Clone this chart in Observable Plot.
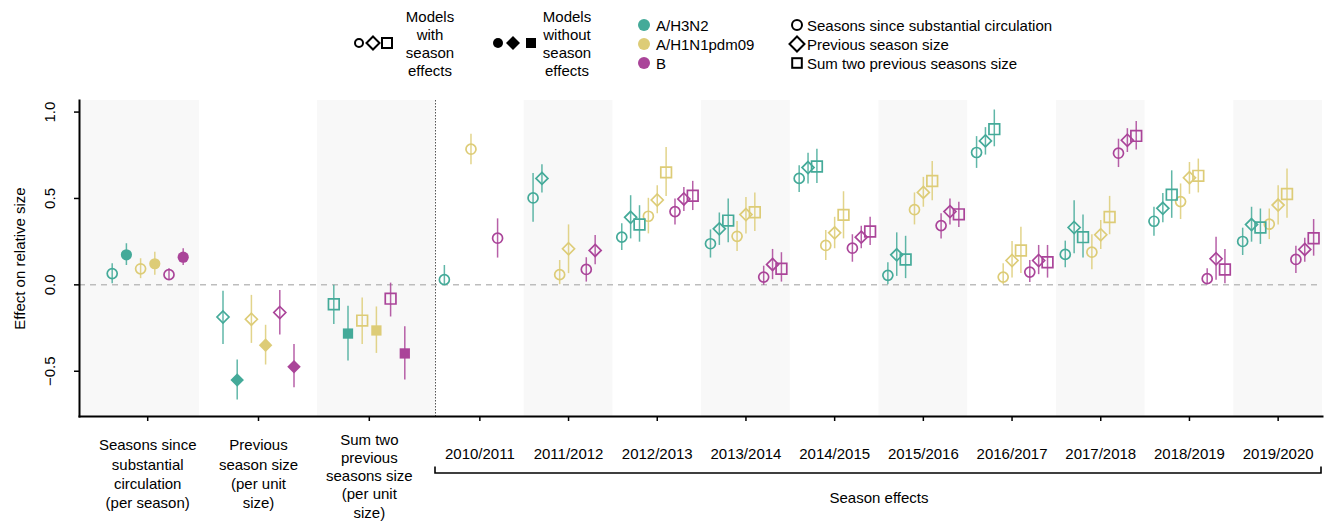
<!DOCTYPE html>
<html><head><meta charset="utf-8">
<script src="https://cdn.jsdelivr.net/npm/d3@7"></script>
<script src="https://cdn.jsdelivr.net/npm/@observablehq/plot@0.6"></script>
<style>
body{margin:0;background:#fff;font-family:"Liberation Sans",Arial,Helvetica,sans-serif;}
#legend svg,#chart svg{display:block;}
</style></head>
<body><div id="legend"></div><div id="chart"></div>
<script>
// ---------- categories ----------
const strains = ["A/H3N2", "A/H1N1pdm09", "B"];
const covariates = ["Seasons since substantial circulation", "Previous season size", "Sum two previous seasons size"];
const covariateTickLabels = [
  "Seasons since\nsubstantial\ncirculation\n(per season)",
  "Previous\nseason size\n(per unit\nsize)",
  "Sum two\nprevious\nseasons size\n(per unit\nsize)"
];
const seasons = ["2010/2011","2011/2012","2012/2013","2013/2014","2014/2015","2015/2016","2016/2017","2017/2018","2018/2019","2019/2020"];
const modelTypes = ["Models\nwith\nseason\neffects", "Models\nwithout\nseason\neffects"];
const yTicks = [-0.5, 0, 0.5, 1.0];

// ---------- covariate effects (rows: covariate, cols: strain) ----------
const withSeasonEst = [[0.065, 0.093, 0.059], [-0.186, -0.199, -0.160], [-0.112, -0.207, -0.080]];
const withSeasonLo  = [[0.007, 0.036, 0.026], [-0.345, -0.339, -0.291], [-0.230, -0.345, -0.186]];
const withSeasonHi  = [[0.122, 0.151, 0.093], [-0.037, -0.061, -0.032], [-0.003, -0.076, 0.010]];
const withoutSeasonEst = [[0.174, 0.122, 0.160], [-0.551, -0.349, -0.474], [-0.282, -0.264, -0.397]];
const withoutSeasonLo  = [[0.112, 0.055, 0.112], [-0.666, -0.464, -0.595], [-0.441, -0.397, -0.551]];
const withoutSeasonHi  = [[0.238, 0.189, 0.209], [-0.435, -0.234, -0.345], [-0.124, -0.128, -0.243]];

// ---------- season effects (rows: season, cols: covariate model circle/diamond/square) ----------
const h3n2Est = [[0.030,null,null],[0.503,0.616,null],[0.276,0.391,0.349],[0.238,0.324,0.372],[0.616,0.679,0.685],[0.055,0.174,0.147],[0.766,0.833,0.901],[0.176,0.332,0.276],[0.368,0.443,0.522],[0.251,0.349,0.332]];
const h3n2Lo  = [[-0.003,null,null],[0.362,0.532,null],[0.199,0.266,0.247],[0.155,0.228,0.243],[0.535,0.584,0.587],[0.001,0.049,0.036],[0.674,0.751,0.799],[0.099,0.180,0.155],[0.281,0.359,0.385],[0.170,0.247,0.234]];
const h3n2Hi  = [[0.112,null,null],[0.645,0.695,null],[0.353,0.516,0.458],[0.318,0.416,0.497],[0.689,0.762,0.785],[0.128,0.301,0.281],[0.858,0.910,1.012],[0.253,0.487,0.405],[0.449,0.529,0.660],[0.328,0.449,0.439]];
const h1n1Est = [[0.785,null,null],[0.059,0.209,null],[0.397,0.491,0.651],[0.281,0.407,0.420],[0.228,0.301,0.405],[0.435,0.535,0.601],[0.045,0.141,0.199],[0.189,0.290,0.393],[0.482,0.620,0.631],[0.351,0.462,0.526]];
const h1n1Lo  = [[0.695,null,null],[0.001,0.065,null],[0.295,0.411,0.512],[0.193,0.295,0.309],[0.141,0.209,0.266],[0.347,0.449,0.487],[0.001,0.039,0.065],[0.088,0.205,0.290],[0.378,0.524,0.532],[0.262,0.347,0.385]];
const h1n1Hi  = [[0.872,null,null],[0.141,0.347,null],[0.501,0.574,0.795],[0.366,0.506,0.532],[0.314,0.391,0.539],[0.532,0.622,0.714],[0.122,0.251,0.333],[0.290,0.372,0.512],[0.584,0.708,0.728],[0.439,0.574,0.670]];
const bEst = [[0.270,null,null],[0.089,0.199,null],[0.424,0.497,0.516],[0.045,0.118,0.093],[0.212,0.276,0.309],[0.343,0.424,0.408],[0.074,0.141,0.131],[0.762,0.837,0.862],[0.036,0.151,0.089],[0.147,0.205,0.270]];
const bLo  = [[0.155,null,null],[0.016,0.116,null],[0.347,0.424,0.430],[-0.003,0.030,0.016],[0.131,0.209,0.228],[0.266,0.347,0.332],[0.013,0.059,0.039],[0.679,0.766,0.781],[0.001,0.026,0.007],[0.065,0.131,0.166]];
const bHi  = [[0.382,null,null],[0.157,0.285,null],[0.497,0.564,0.599],[0.108,0.205,0.186],[0.290,0.339,0.391],[0.411,0.497,0.478],[0.141,0.228,0.228],[0.843,0.904,0.945],[0.093,0.276,0.205],[0.224,0.270,0.378]];

// ---------- styles / layout ----------
const strainColors = ["#44AA99", "#DDCC77", "#AA4499"];
const FONT = '"Liberation Sans", Arial, Helvetica, sans-serif';
const W = 1325, H = 427, ML = 79, MR = 3, MT = 5, MB = 106;
const yDomain = [-0.762, 1.067];
const leftGroupStart = 68.2, leftGroupStep = 110.8, leftSlot = 14.2;
const leftPanelEdges = [0, 120, 238, 356];
const seasonStart = 356, seasonWidth = 88.7, seasonSlot = 8.87;
const xLeft = i => leftGroupStart + i * leftGroupStep;
const xSeason = j => seasonStart + (j + 0.5) * seasonWidth;

const seasonEst = [h3n2Est, h1n1Est, bEst], seasonLo = [h3n2Lo, h1n1Lo, bLo], seasonHi = [h3n2Hi, h1n1Hi, bHi];

const rows = [];
covariates.forEach((cov, c) => strains.forEach((st, s) => {
  [[withSeasonEst, withSeasonLo, withSeasonHi], [withoutSeasonEst, withoutSeasonLo, withoutSeasonHi]].forEach(([E, L, U], m) => {
    rows.push({x: xLeft(c) + (2 * s + m - 2.5) * leftSlot, est: E[c][s], lo: L[c][s], hi: U[c][s], s, c, filled: m === 1});
  });
}));
seasons.forEach((season, j) => strains.forEach((st, s) => covariates.forEach((cov, c) => {
  const e = seasonEst[s][j][c];
  if (e == null) return;
  rows.push({x: xSeason(j) + (3 * s + c - 4) * seasonSlot, est: e, lo: seasonLo[s][j][c], hi: seasonHi[s][j][c], s, c, filled: false});
})));

const shaded = [{x1: leftPanelEdges[0], x2: leftPanelEdges[1]}, {x1: leftPanelEdges[2], x2: leftPanelEdges[3]}];
seasons.forEach((_, j) => { if (j % 2 === 1) shaded.push({x1: seasonStart + j * seasonWidth, x2: seasonStart + (j + 1) * seasonWidth}); });

const openSymbols = ["circle", "diamond2", "square2"], openR = [5, 5.4, 6.8];
const filledSymbols = ["circle", "diamond2", "square"], filledR = [5.6, 6.1, 5.8];

const dotMarks = [];
covariates.forEach((cov, c) => {
  dotMarks.push(Plot.dot(rows.filter(d => d.c === c && !d.filled), {x: "x", y: "est", symbol: () => openSymbols[c], r: openR[c], fill: "none", stroke: d => strainColors[d.s], strokeWidth: 1.7}));
  dotMarks.push(Plot.dot(rows.filter(d => d.c === c && d.filled), {x: "x", y: "est", symbol: () => filledSymbols[c], r: filledR[c], fill: d => strainColors[d.s], stroke: "none"}));
});

const leftCenters = covariates.map((_, i) => xLeft(i));
const seasonCenters = seasons.map((_, j) => xSeason(j));
const fmtY = d => (d < 0 ? "\u2212" : "") + Math.abs(d).toFixed(1);
const seasonsEnd = seasonStart + seasons.length * seasonWidth;
const leftLabel = v => covariateTickLabels[leftCenters.findIndex(c => Math.abs(c - v) < 1e-6)];

const chart = Plot.plot({
  width: W, height: H, marginLeft: ML, marginRight: MR, marginTop: MT, marginBottom: MB,
  style: {fontFamily: FONT, fontSize: "15px", background: "white", overflow: "visible"},
  x: {type: "linear", domain: [0, seasonsEnd]},
  y: {domain: yDomain},
  symbol: {type: "identity"},
  marks: [
    Plot.rect(shaded, {x1: "x1", x2: "x2", y1: yDomain[0], y2: yDomain[1], fill: "#f8f8f8"}),
    Plot.ruleY([0], {stroke: "#bdbdbd", strokeWidth: 1.5, strokeDasharray: "6,5"}),
    Plot.ruleX([seasonStart], {stroke: "#555", strokeWidth: 1, strokeDasharray: "1.5,1.5"}),
    Plot.ruleX(rows, {x: "x", y1: "lo", y2: "hi", stroke: d => strainColors[d.s], strokeWidth: 1.5, strokeOpacity: 0.85}),
    ...dotMarks,
    Plot.frame({anchor: "left", stroke: "black", strokeWidth: 2}),
    Plot.frame({anchor: "bottom", stroke: "black", strokeWidth: 2}),
    Plot.axisY({ticks: yTicks, tickSize: 5, tickFormat: () => "", label: null, strokeWidth: 1.5}),
    Plot.text(yTicks, {y: d => d, text: fmtY, frameAnchor: "left", dx: -29, rotate: -90, textAnchor: "middle", lineAnchor: "middle", fontSize: 15}),
    Plot.text(["Effect on relative size"], {frameAnchor: "left", dx: -59, rotate: -90, textAnchor: "middle", lineAnchor: "middle", fontSize: 15}),
    Plot.axisX({ticks: leftCenters.slice(0, 2), tickSize: 5, tickPadding: 15, lineHeight: 1.29, fontSize: 15, label: null, strokeWidth: 1.5, tickFormat: leftLabel}),
    Plot.axisX({ticks: leftCenters.slice(2), tickSize: 5, tickPadding: 10, lineHeight: 1.22, fontSize: 15, label: null, strokeWidth: 1.5, tickFormat: leftLabel}),
    Plot.axisX({ticks: seasonCenters, tickSize: 5, tickPadding: 27, fontSize: 15, label: null, strokeWidth: 1.5,
      tickFormat: v => seasons[seasonCenters.findIndex(c => Math.abs(c - v) < 1e-6)]}),
    (index, scales, values, dims) => {
      const g = d3.create("svg:g");
      const yb = dims.height - dims.marginBottom + 57;
      const xa = scales.x(seasonStart), xb = scales.x(seasonsEnd) - 1;
      g.append("path").attr("d", `M${xa},${yb - 6.5}V${yb}H${xb}V${yb - 6.5}`)
        .attr("fill", "none").attr("stroke", "black").attr("stroke-width", 1.6);
      return g.node();
    },
    Plot.text(["Season effects"], {x: () => (seasonStart + seasonsEnd) / 2, frameAnchor: "bottom", dy: 82, lineAnchor: "middle", fontSize: 15})
  ]
});
document.getElementById("chart").appendChild(chart);

// ---------- legend (above the plot) ----------
const lg = d3.select("#legend").append("svg").attr("width", W).attr("height", 95)
  .style("font-family", FONT).style("font-size", "15px");
function sym(g, type, x, y, size, filled, color) {
  const el = type === "circle" ? g.append("circle").attr("cx", x).attr("cy", y).attr("r", size)
    : type === "diamond" ? g.append("path").attr("d", `M${x},${y - size}L${x + size},${y}L${x},${y + size}L${x - size},${y}Z`)
    : g.append("rect").attr("x", x - size).attr("y", y - size).attr("width", 2 * size).attr("height", 2 * size);
  if (filled) el.attr("fill", color).attr("stroke", "none");
  else el.attr("fill", "none").attr("stroke", color).attr("stroke-width", 2);
}
// model type legend
[[359, 373, 387, 430, false], [498, 513, 531, 567, true]].forEach(([a, b, c, tx, filled], k) => {
  sym(lg, "circle", a, 43, filled ? 5 : 4, filled, "black");
  sym(lg, "diamond", b, 43, filled ? 7 : 6.5, filled, "black");
  sym(lg, "rect", c, 43, 5, filled, "black");
  const t = lg.append("text").attr("text-anchor", "middle");
  modelTypes[k].split("\n").forEach((line, i) => t.append("tspan").attr("x", tx).attr("y", 21.5 + i * 18).text(line));
});
// strain colours
strains.forEach((st, i) => {
  lg.append("circle").attr("cx", 644).attr("cy", 25 + i * 19).attr("r", 6).attr("fill", strainColors[i]);
  lg.append("text").attr("x", 656).attr("y", 30.5 + i * 19).text(st);
});
// covariate shapes
covariates.forEach((cov, i) => {
  const y = 25 + i * 19;
  sym(lg, ["circle", "diamond", "rect"][i], 797, y, [5, 7.5, 4.8][i], false, "black");
  lg.append("text").attr("x", 807).attr("y", y + 5.5).text(cov);
});
</script>
</body></html>
